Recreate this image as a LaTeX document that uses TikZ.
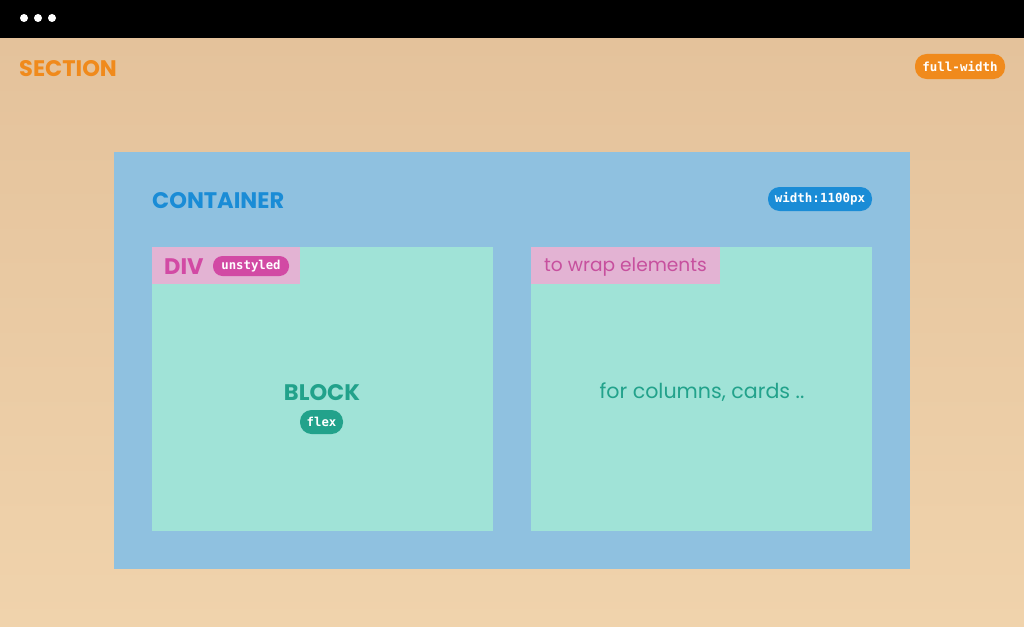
\documentclass[tikz,border=0pt]{standalone}
\usepackage{fontspec}
\setmainfont{Poppins}
\newfontfamily\monof{DejaVu Sans Mono}
\definecolor{bgtop}{HTML}{E4C29B}
\definecolor{bgbot}{HTML}{F0D3AC}
\definecolor{orng}{HTML}{F08A1C}
\definecolor{contbg}{HTML}{8FC1E0}
\definecolor{contfg}{HTML}{1A8CD6}
\definecolor{mint}{HTML}{A0E3D7}
\definecolor{pinkband}{HTML}{E3B3D3}
\definecolor{pinkfg}{HTML}{D24AA4}
\definecolor{pinktxt}{HTML}{C7509E}
\definecolor{teal}{HTML}{22A28B}
\tikzset{
  badge/.style={rectangle, rounded corners=11.5pt, fill=#1, text=white, inner xsep=0pt, inner ysep=0pt, minimum height=24pt, font=\monof\bfseries\fontsize{12.5}{12.5}\selectfont},
  box/.style={anchor=north west, inner sep=0pt, fill=#1},
  title/.style={anchor=west, inner sep=0pt, font=\bfseries\fontsize{22.5}{22.5}\selectfont, text=#1},
}
\begin{document}
\begin{tikzpicture}[x=1pt,y=-1pt]
\useasboundingbox (0,0) rectangle (1024,626);
\shade[top color=bgtop, bottom color=bgbot] (0,38) rectangle (1024,626);
\fill[black] (0,0) rectangle (1024,38);
\foreach \i/\xx in {1/24,2/38,3/52} \fill[white] (\xx,18) circle (4);
\node[title=orng] (section) at (19,68.5) {SECTION};
\node[badge=orng, minimum width=90pt, minimum height=25pt] (fw) at (960,66.5) {full-width};
\node[box=contbg, minimum width=796pt, minimum height=417pt] (cont) at (114,152) {};
\node[title=contfg] (ctitle) at (152,200.5) {CONTAINER};
\node[badge=contfg, minimum width=104pt] (w) at (820,199) {width:1100px};
\node[box=mint, minimum width=341pt, minimum height=284pt] (left) at (152,247) {};
\node[box=mint, minimum width=341pt, minimum height=284pt] (right) at (531,247) {};
\node[box=pinkband, minimum width=148pt, minimum height=37pt] (divband) at (left.north west) {};
\node[box=pinkband, minimum width=189pt, minimum height=37pt] (wrapband) at (right.north west) {};
\node[title=pinkfg] (div) at (164,266.5) {DIV};
\node[badge=pinkfg, minimum width=76pt, minimum height=20pt, rounded corners=9.5pt, font=\monof\bfseries\fontsize{12.3}{12.3}\selectfont] (uns) at (251,266) {unstyled};
\node[anchor=west, inner sep=0pt, text=pinktxt, font=\fontsize{18.6}{18.6}\selectfont] (wrap) at (544,267) {to wrap elements};
\node[inner sep=0pt, text=teal, font=\bfseries\fontsize{22.5}{22.5}\selectfont] (block) at (322,392.5) {BLOCK};
\node[badge=teal, minimum width=43pt, font=\monof\bfseries\fontsize{12.3}{12.3}\selectfont] (flex) at (321.5,422) {flex};
\node[inner sep=0pt, text=teal, font=\fontsize{20.6}{20.6}\selectfont] (cols) at (702,392.5) {for columns, cards ..};
\end{tikzpicture}
\end{document}
